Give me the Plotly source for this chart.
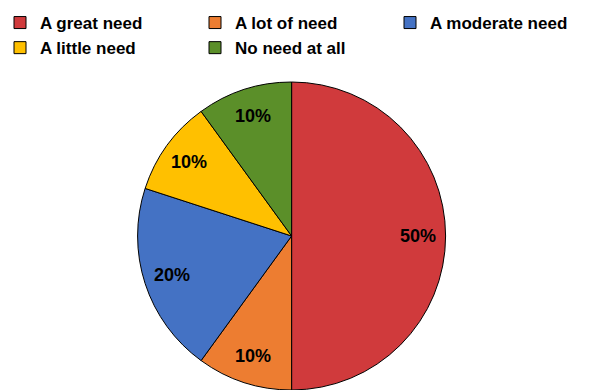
import math
import plotly.graph_objects as go

labels = ["A great need", "A lot of need", "A moderate need", "A little need", "No need at all"]
values = [50, 10, 20, 10, 10]
colors = ["#D03A3C", "#ED7D31", "#4472C4", "#FFC000", "#5B8F29"]

W, H = 589, 390
TOP = 82
R = 154
cx = 291.6
PH = H - TOP  # plot height

FONT = "Liberation Sans, Arial, sans-serif"

fig = go.Figure(go.Pie(
    labels=labels,
    values=values,
    sort=False,
    direction="clockwise",
    rotation=0,
    marker=dict(colors=colors, line=dict(color="black", width=1)),
    textinfo="none",
    domain=dict(x=[(cx - R) / W, (cx + R) / W], y=[0, 1]),
    hoverinfo="skip",
))

# percentage labels placed along each slice's mid-angle
total = sum(values)
cum = 0
for v in values:
    mid = (cum + v / 2) / total * 2 * math.pi
    cum += v
    r = 0.82 * R
    fig.add_annotation(
        x=(cx + r * math.sin(mid)) / W,
        y=0.5 + r * math.cos(mid) / PH,
        xref="paper", yref="paper",
        xanchor="center", yanchor="middle",
        text=f"{round(v / total * 100)}%",
        showarrow=False,
        font=dict(family=FONT, size=18, color="black", weight="bold"),
    )

fig.update_layout(
    width=W, height=H,
    margin=dict(l=0, r=0, t=TOP, b=0, autoexpand=False),
    paper_bgcolor="white",
    plot_bgcolor="white",
    showlegend=True,
    legend=dict(
        orientation="h",
        x=0, xref="paper", xanchor="left",
        y=1 - 5 / H, yref="container", yanchor="top",
        entrywidth=150, entrywidthmode="pixels",
        font=dict(family=FONT, size=17, color="black", weight="bold"),
        itemwidth=30,
        traceorder="normal",
    ),
)

fig.write_html("out.html")
